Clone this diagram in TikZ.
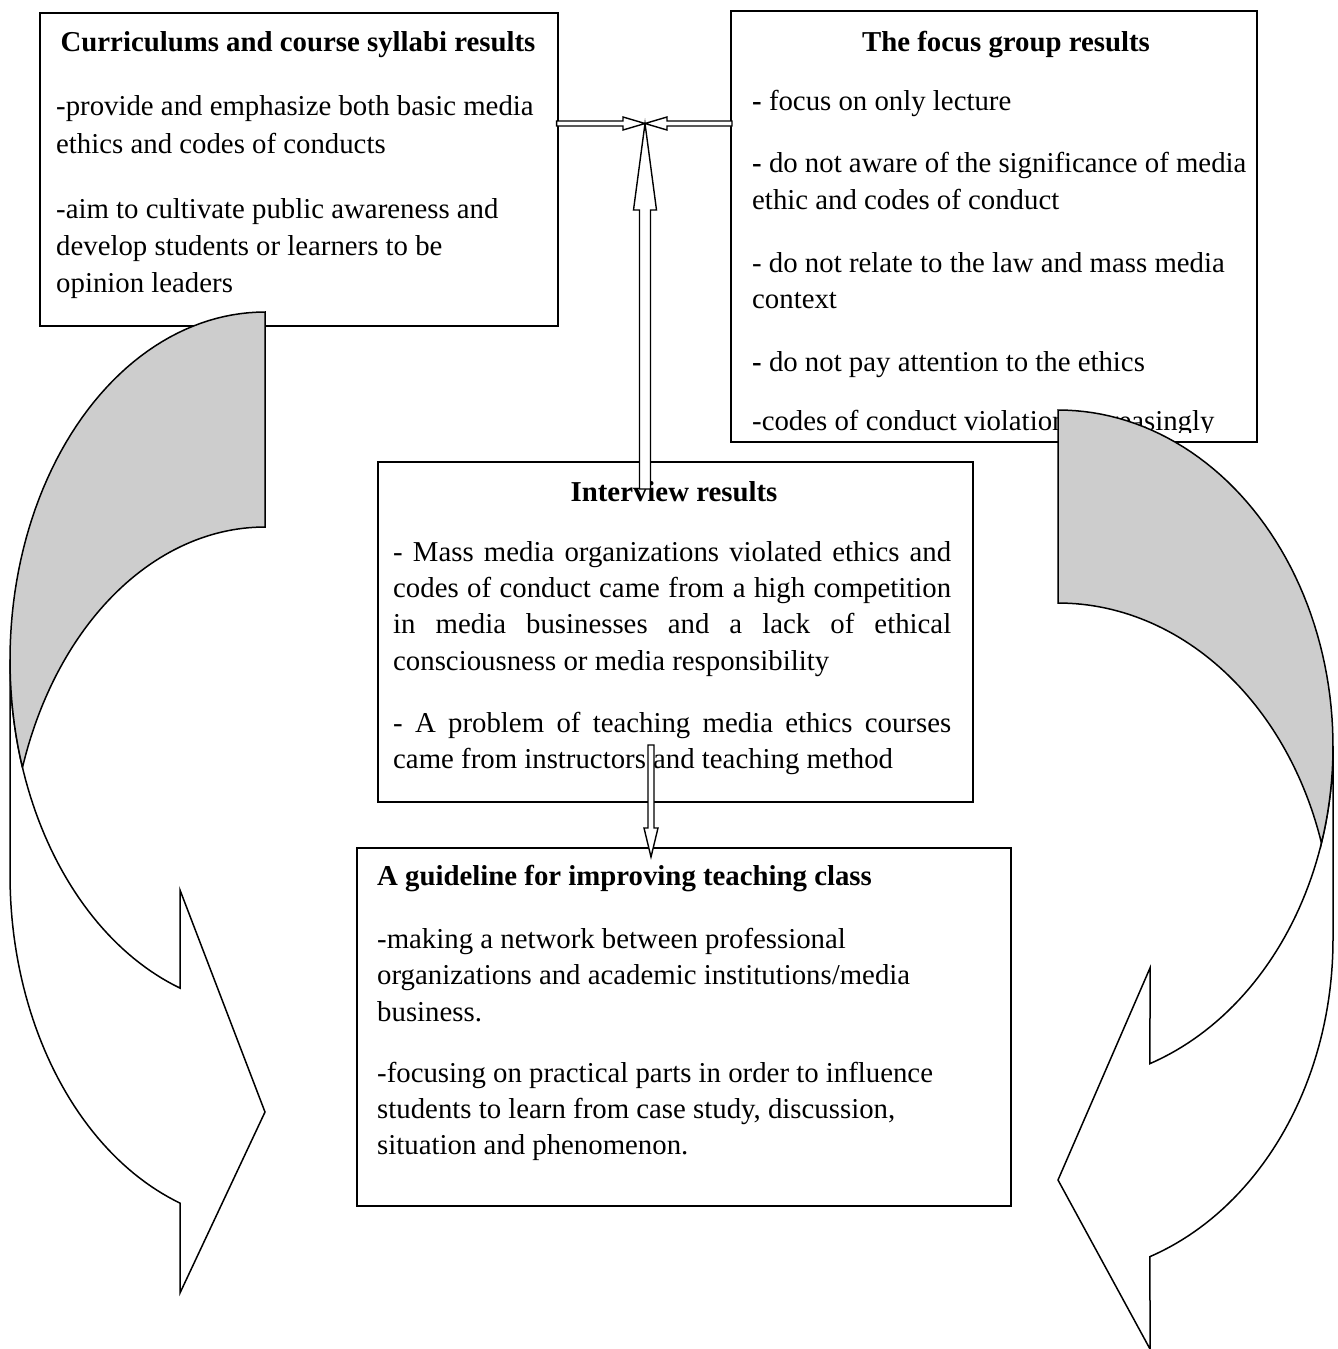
\documentclass[tikz,border=0pt]{standalone}
\usepackage{fontspec}
\setmainfont{Liberation Serif}
\usetikzlibrary{calc}
\definecolor{ribbongray}{RGB}{205,205,205}
\newcommand{\bodysize}{\fontsize{28.8}{34}\selectfont}

\tikzset{
  box/.style={draw, line width=1.6pt, fill=white, anchor=north west, inner sep=0pt},
  txt/.style={anchor=base west, inner sep=0pt, font=\bodysize},
  ttl/.style={anchor=base, inner sep=0pt, font=\bodysize\bfseries},
  ttlleft/.style={anchor=base west, inner sep=0pt, font=\bodysize\bfseries},
  blockarrow/.style={draw, fill=white, line width=1.4pt, line join=miter},
  ribbonback/.style={draw, fill=ribbongray, line width=1.5pt},
  ribbonfront/.style={draw, fill=white, line width=1.5pt},
}

\begin{document}
\begin{tikzpicture}[x=1pt, y=-1pt]
\useasboundingbox (0,0) rectangle (1338,1349);

% ---------- text boxes ----------
\node[box, minimum width=518pt, minimum height=313pt] (curr) at (39,12) {};
\node[box, minimum width=526pt, minimum height=431pt] (focus) at (730,10) {};
\node[box, minimum width=595pt, minimum height=340pt] (intv) at (377,461) {};
\node[box, minimum width=654pt, minimum height=358pt] (guide) at (356,847) {};

% curricula and syllabi
\node[ttl] (currT) at (298,51) {Curriculums and course syllabi results};
\node[txt] (curr1) at (56,115) {-provide and emphasize both basic media};
\node[txt] (curr2) at (56,153) {ethics and codes of conducts};
\node[txt] (curr3) at (56,218) {-aim to cultivate public awareness and};
\node[txt] (curr4) at (56,255) {develop students or learners to be};
\node[txt] (curr5) at (56,292) {opinion leaders};

% focus group
\node[ttl] (focusT) at (1006,51) {The focus group results};
\node[txt] (focus1) at (752,110) {\textbf{-} focus on only lecture};
\node[txt] (focus2) at (752,172) {\textbf{-} do not aware of the significance of media};
\node[txt] (focus3) at (752,209) {ethic and codes of conduct};
\node[txt] (focus4) at (752,272) {- do not relate to the law and mass media};
\node[txt] (focus5) at (752,308) {context};
\node[txt] (focus6) at (752,371) {\textbf{-} do not pay attention to the ethics};
\begin{scope}
  \clip (730,10) rectangle (1256,432);
  \node[txt] (focus7) at (752,430) {-codes of conduct violation increasingly};
\end{scope}

% interviews
\node[ttl] (intvT) at (674,501) {Interview results};
\node[txt] (intv1) at (393,561) {\makebox[558pt][s]{- Mass media organizations violated ethics and}};
\node[txt] (intv2) at (393,597) {\makebox[558pt][s]{codes of conduct came from a high competition}};
\node[txt] (intv3) at (393,633) {\makebox[558pt][s]{in media businesses and a lack of ethical}};
\node[txt] (intv4) at (393,670) {consciousness or media responsibility};
\node[txt] (intv5) at (393,732) {\makebox[558pt][s]{- A problem of teaching media ethics courses}};
\node[txt] (intv6) at (393,768) {came from instructors and teaching method};

% guideline
\node[ttlleft] (guideT) at (377,885) {A guideline for improving teaching class};
\node[txt] (guide1) at (377,948) {-making a network between professional};
\node[txt] (guide2) at (377,984) {organizations and academic institutions/media};
\node[txt] (guide3) at (377,1021) {business.};
\node[txt] (guide4) at (377,1082) {-focusing on practical parts in order to influence};
\node[txt] (guide5) at (377,1118) {students to learn from case study, discussion,};
\node[txt] (guide6) at (377,1154) {situation and phenomenon.};

% ---------- curved ribbon arrow, left side ----------
\draw[ribbonfront] (10,660) -- (10,875)
  -- plot[domain=180:109.47, samples=50, variable=\t] ({265+255*cos(\t)}, {875+348*sin(\t)})
  -- (180,1293) -- (265,1112) -- (180,890)
  -- plot[domain=109.47:180, samples=50, variable=\t] ({265+255*cos(\t)}, {660+348*sin(\t)})
  -- cycle;
\draw[ribbonback]
  plot[domain=270:162, samples=60, variable=\t] ({265+255*cos(\t)}, {660+348*sin(\t)})
  -- plot[domain=198:270, samples=60, variable=\t] ({265+255*cos(\t)}, {875+348*sin(\t)})
  -- cycle;

% ---------- curved ribbon arrow, right side ----------
\draw[ribbonfront] (1333,746.5) -- (1333,939.5)
  -- plot[domain=0:70.46, samples=50, variable=\t] ({1058+275*cos(\t)}, {939.5+336.5*sin(\t)})
  -- (1150,1349) -- (1058,1180) -- (1150,968)
  -- plot[domain=70.46:0, samples=50, variable=\t] ({1058+275*cos(\t)}, {746.5+336.5*sin(\t)})
  -- cycle;
\draw[ribbonback]
  plot[domain=270:376.67, samples=60, variable=\t] ({1058+275*cos(\t)}, {746.5+336.5*sin(\t)})
  -- plot[domain=343.33:270, samples=60, variable=\t] ({1058+275*cos(\t)}, {939.5+336.5*sin(\t)})
  -- cycle;

% ---------- block arrows meeting at the hub ----------
\coordinate (hub) at (645,123.5);
\draw[blockarrow] ($(curr.east |- hub)+(-2,-2.5)$) -- ($(hub)+(-22,-2.5)$)
  -- ($(hub)+(-22,-6.5)$) -- (hub) -- ($(hub)+(-22,6.5)$)
  -- ($(hub)+(-22,2.5)$) -- ($(curr.east |- hub)+(-2,2.5)$) -- cycle;
\draw[blockarrow] ($(focus.west |- hub)+(2,-2.5)$) -- ($(hub)+(22,-2.5)$)
  -- ($(hub)+(22,-6.5)$) -- (hub) -- ($(hub)+(22,6.5)$)
  -- ($(hub)+(22,2.5)$) -- ($(focus.west |- hub)+(2,2.5)$) -- cycle;
\coordinate (upfoot) at (645,489);
\draw[blockarrow] ($(upfoot)+(-5.5,0)$) -- ($(hub |- 0,210)+(-5.5,0)$)
  -- ($(hub |- 0,210)+(-11.5,0)$) -- (hub) -- ($(hub |- 0,210)+(11.5,0)$)
  -- ($(hub |- 0,210)+(5.5,0)$) -- ($(upfoot)+(5.5,0)$) -- cycle;

% down arrow from the interview box to the guideline box
\coordinate (downtop) at (651,745);
\coordinate (downtip) at (651,857);
\draw[blockarrow] ($(downtop)+(-3,0)$) -- ($(downtip)+(-3,-29)$)
  -- ($(downtip)+(-7,-29)$) -- (downtip) -- ($(downtip)+(7,-29)$)
  -- ($(downtip)+(3,-29)$) -- ($(downtop)+(3,0)$) -- cycle;
\end{tikzpicture}
\end{document}
